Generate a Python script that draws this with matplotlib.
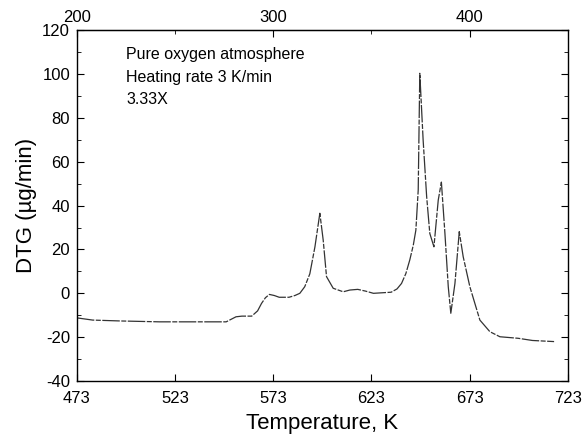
import matplotlib
matplotlib.use("Agg")
import matplotlib.pyplot as plt
from matplotlib.ticker import MultipleLocator, FixedLocator

plt.rcParams["font.family"] = ["Liberation Sans", "DejaVu Sans"]
plt.rcParams["axes.unicode_minus"] = False

# DTG curve (temperature in K, DTG in ug/min)
temp_k = [473, 481, 495, 515, 530, 541, 549, 554, 557, 562, 565, 567, 569, 571,
          573.5, 576, 581, 584, 586.5, 589, 591.6, 594.2, 596.7, 598.4, 600.1,
          603.5, 608.6, 612, 616, 620, 624, 633, 636, 638.3, 640.5, 642.5, 644.3,
          645.6, 646.8, 647.6, 649.3, 651.1, 652.7, 654.8, 657, 658.6, 660.4,
          662.1, 663.4, 665.5, 667.7, 669.7, 673.1, 678.2, 683.3, 688.4, 697.7,
          705, 716]
dtg = [-11.2, -12.2, -12.6, -13, -13, -13, -13, -10.7, -10.4, -10.4, -8, -4.6, -2, -0.5,
       -1, -1.8, -1.8, -1, 0, 3, 8.9, 21.2, 36.5, 24.3, 7.6,
       2.3, 0.7, 1.5, 1.8, 1, 0, 0.5, 2, 4.5, 9, 15.2, 22,
       28.8, 47.1, 100.3, 69.9, 44, 27.3, 21.2, 42.5, 50.7, 27.3,
       3, -9.1, 4.5, 28.1, 16.7, 3, -12.2, -17.5, -19.8, -20.5,
       -21.5, -22]

x_ticks = [473, 523, 573, 623, 673, 723]
top_labels = [200, 300, 400]
notes = ["Pure oxygen atmosphere", "Heating rate 3 K/min", "3.33X"]

fig = plt.figure(figsize=(5.83, 4.36), dpi=100)
ax = fig.add_axes([0.132, 0.126, 0.842, 0.805])

ax.plot(temp_k, dtg, color="#333333", lw=0.9, dashes=(14, 1.2, 4, 1.2))

ax.set_xlim(473, 723)
ax.set_ylim(-40, 120)
ax.set_xticks(x_ticks)
ax.yaxis.set_major_locator(MultipleLocator(20))
ax.yaxis.set_minor_locator(MultipleLocator(10))
ax.tick_params(which="both", direction="in", right=True, labelsize=12)
ax.tick_params(which="major", length=5)
ax.tick_params(which="minor", length=3)
ax.tick_params(axis="x", pad=7)
ax.tick_params(axis="y", pad=5)
ax.set_xlabel("Temperature, K", fontsize=16, labelpad=5)
ax.set_ylabel("DTG (µg/min)", fontsize=16)

# top axis in degrees Celsius
top = ax.secondary_xaxis("top", functions=(lambda t: t - 273, lambda c: c + 273))
top.xaxis.set_major_locator(FixedLocator(top_labels))
top.xaxis.set_minor_locator(FixedLocator([250, 350]))
top.tick_params(which="both", direction="in", labelsize=12)
top.tick_params(which="major", length=5)
top.tick_params(which="minor", length=3)

for i, s in enumerate(notes):
    ax.text(0.1, 0.93 - i * 0.064, s, transform=ax.transAxes, fontsize=11.5,
            va="center", ha="left")

for sp in ax.spines.values():
    sp.set_linewidth(1.0)

fig.savefig("out.png", dpi=100)
